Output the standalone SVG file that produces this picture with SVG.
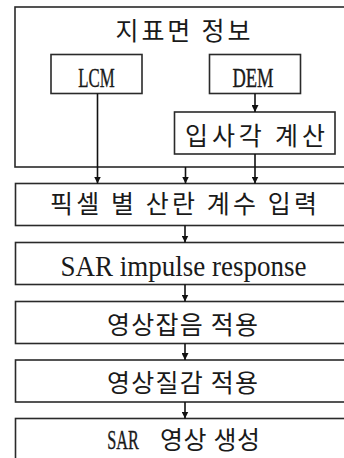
<svg xmlns="http://www.w3.org/2000/svg" width="344" height="458" viewBox="0 0 344 458">
<style>
.box{fill:#fff;stroke:#2a2a2a;stroke-width:1.6}
.ko{font-family:"Noto Sans CJK KR","Noto Sans",sans-serif;font-size:25px;fill:#1a1a1a;text-anchor:middle}
.la{font-family:"Liberation Serif","Noto Sans CJK KR",serif;fill:#1a1a1a;text-anchor:middle}
.nar{stroke:#1a1a1a;stroke-width:0.4}
.arr{stroke:#111;stroke-width:1.6;fill:none;marker-end:url(#ah)}
</style>
<defs>
<marker id="ah" markerUnits="userSpaceOnUse" markerWidth="7" markerHeight="7" refX="7" refY="3.5" orient="auto">
<path d="M0,0 L7,3.5 L0,7 z" fill="#111"/>
</marker>
</defs>
<rect width="344" height="458" fill="#fff"/>
<g id="surface-info">
<rect class="box" x="15" y="7" width="345" height="160"/>
<text class="ko" x="183" y="40" font-size="24" textLength="135">지표면 정보</text>
</g>
<g id="lcm">
<rect class="box" x="51" y="54.5" width="91" height="39"/>
<text class="la nar" font-size="28" transform="translate(96.5,87) scale(0.6,1)">LCM</text>
</g>
<g id="dem">
<rect class="box" x="209.5" y="54.5" width="91" height="39"/>
<text class="la nar" font-size="28" transform="translate(253,87) scale(0.66,1)">DEM</text>
</g>
<g id="incidence">
<rect class="box" x="174.5" y="112" width="160.5" height="42"/>
<text class="ko" x="255" y="145" textLength="140">입사각 계산</text>
</g>
<g id="scatter">
<rect class="box" x="15.5" y="183.5" width="345" height="42"/>
<text class="ko" x="183.5" y="213" textLength="267">픽셀 별 산란 계수 입력</text>
</g>
<g id="impulse">
<rect class="box" x="15.5" y="242.5" width="345" height="42"/>
<text class="la" font-size="30" transform="translate(183.5,276) scale(0.9,1)">SAR impulse response</text>
</g>
<g id="noise">
<rect class="box" x="15.5" y="301.5" width="345" height="42"/>
<text class="ko" x="182.5" y="334" textLength="151">영상잡음 적용</text>
</g>
<g id="texture">
<rect class="box" x="15.5" y="360" width="345" height="42"/>
<text class="ko" x="182.5" y="392" textLength="151">영상질감 적용</text>
</g>
<g id="sar-image">
<rect class="box" x="15.5" y="418.5" width="345" height="45"/>
<text class="la nar" font-size="28" transform="translate(123,448.5) scale(0.58,1)">SAR</text>
<text class="ko" x="210" y="448.5" textLength="100">영상 생성</text>
</g>
<g id="connectors">
<line class="arr" x1="97.5" y1="93.5" x2="97.5" y2="183.5"/>
<line class="arr" x1="185.5" y1="167" x2="185.5" y2="183.5"/>
<line class="arr" x1="255" y1="154" x2="255" y2="183.5"/>
<line class="arr" x1="255" y1="93.5" x2="255" y2="112"/>
<line class="arr" x1="185" y1="225.5" x2="185" y2="242.5"/>
<line class="arr" x1="185" y1="284.5" x2="185" y2="301.5"/>
<line class="arr" x1="185" y1="343.5" x2="185" y2="360"/>
<line class="arr" x1="185" y1="402" x2="185" y2="418.5"/>
</g>
</svg>
